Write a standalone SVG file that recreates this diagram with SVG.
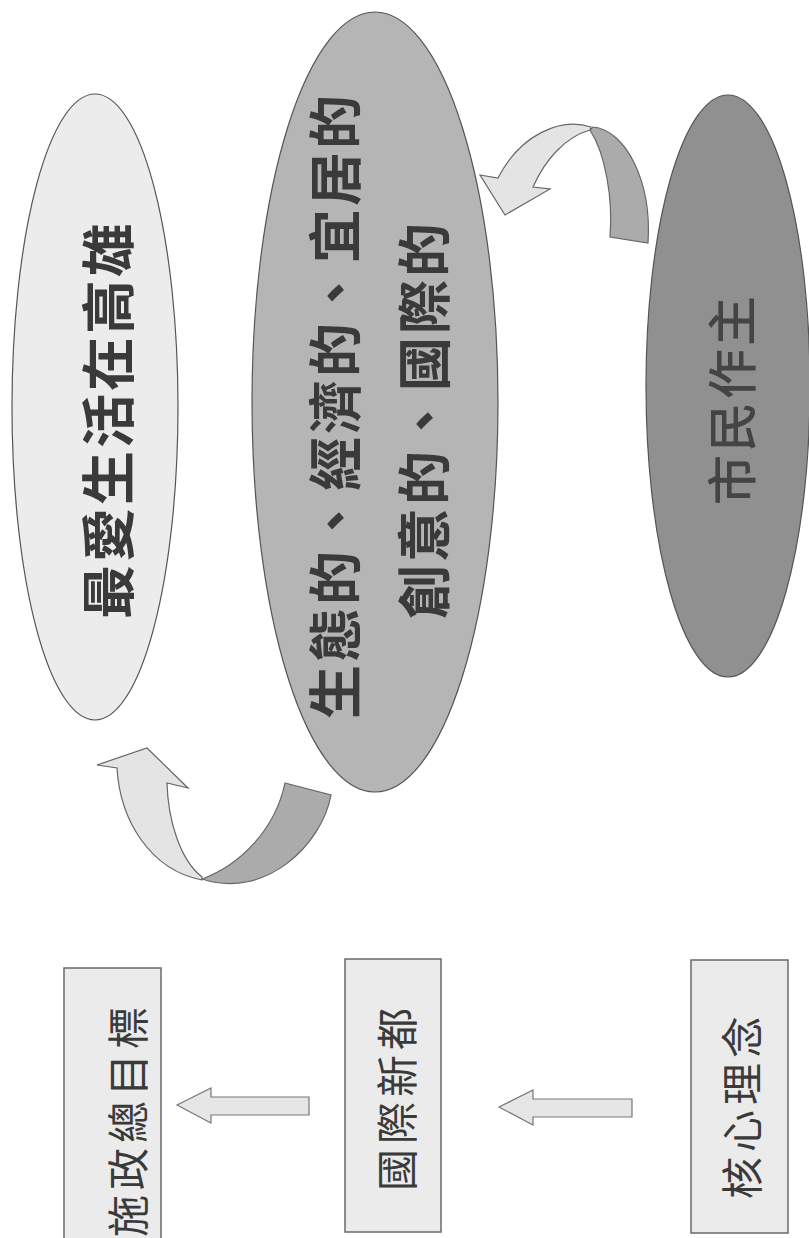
<svg xmlns="http://www.w3.org/2000/svg" width="809" height="1238" viewBox="0 0 809 1238">
<style>
.ell{stroke:#555;stroke-width:1.2}
.et{font-family:"Noto Sans CJK TC","Noto Sans CJK SC",sans-serif;font-size:54px;font-weight:700;fill:#3a3a3a;letter-spacing:3px}
.box{fill:#ebebeb;stroke:#6a6a6a;stroke-width:1.5}
.bt{font-family:"Noto Sans CJK TC","Noto Sans CJK SC",sans-serif;font-size:42px;font-weight:400;fill:#3a3a3a;letter-spacing:5px}
.arr{fill:#e6e6e6;stroke:#777;stroke-width:1.2;stroke-linejoin:miter}
.back{fill:#ababab;stroke:#666;stroke-width:1.2}
.front{fill:#e4e4e4;stroke:#666;stroke-width:1.2}
</style>
<rect width="809" height="1238" fill="#ffffff"/>
<g id="goal-ellipse">
<ellipse class="ell" cx="95" cy="407" rx="83" ry="313" fill="#ececec"/>
<text class="et" transform="translate(129,619) rotate(-90)">最愛生活在高雄</text>
</g>
<g id="values-ellipse">
<ellipse class="ell" cx="375" cy="402" rx="123" ry="390" fill="#b5b5b5"/>
<text class="et" transform="translate(356,719) rotate(-90)">生態的、經濟的、宜居的</text>
<text class="et" transform="translate(445,619) rotate(-90)">創意的、國際的</text>
</g>
<g id="citizen-ellipse">
<ellipse class="ell" cx="728" cy="386" rx="82" ry="291" fill="#909090"/>
<text class="et" style="font-size:50px;font-weight:500;fill:#444" transform="translate(751,505) rotate(-90)">市民作主</text>
</g>
<g id="box-goal">
<rect class="box" x="64" y="968" width="97" height="280"/>
<text class="bt" transform="translate(144,1237) rotate(-90)">施政總目標</text>
</g>
<g id="box-city">
<rect class="box" x="345" y="959" width="96" height="273"/>
<text class="bt" transform="translate(413,1191) rotate(-90)">國際新都</text>
</g>
<g id="box-core">
<rect class="box" x="691" y="960" width="97" height="273"/>
<text class="bt" transform="translate(758,1199) rotate(-90)">核心理念</text>
</g>
<g id="connectors">
<path class="back" d="M610 237 C613 200 606 155 590 130 L593 127 C625 130 652 180 648 243 Z"/>
<path class="front" d="M591 127 C560 117 520 135 498 178 L480 175 L505 215 L550 189 L533 187 C545 160 565 137 590 130 Z"/>
<path class="back" d="M285 783 L331 795 C322 845 265 900 202 879 C240 865 275 830 285 783 Z"/>
<path class="front" d="M202 880 C150 870 120 820 117 768 L97 765 L147 748 L188 788 L167 783 C168 820 180 860 202 877 Z"/>
<polygon class="arr" points="177,1105 211,1088 211,1097 309,1097 309,1115 211,1115 211,1123"/>
<polygon class="arr" points="499,1107 533,1090 533,1099 632,1099 632,1117 533,1117 533,1125"/>
</g>
</svg>
